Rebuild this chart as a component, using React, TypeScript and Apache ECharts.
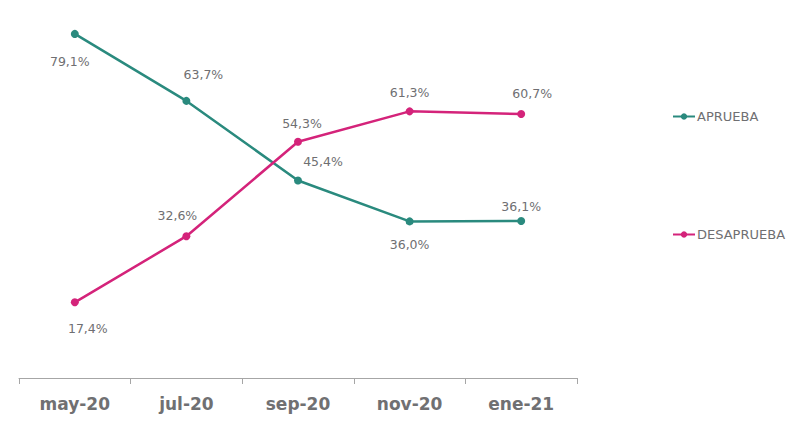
import React, { useEffect, useRef } from "react";
import * as echarts from "echarts";

const categories = ["may-20", "jul-20", "sep-20", "nov-20", "ene-21"];
const aprueba = [79.1, 63.7, 45.4, 36.0, 36.1];
const desaprueba = [17.4, 32.6, 54.3, 61.3, 60.7];

// label placement per point (styling only)
const apruebaLabelPos = ["bottom", "top", "top", "bottom", "top"];
const apruebaLabelOff = [[-5, 12], [17, -11], [25, -4], [0, 8], [0, 1]];
const desapruebaLabelPos = ["bottom", "top", "top", "top", "top"];
const desapruebaLabelOff = [[13, 11], [-9, -5], [4, -3], [0, -3], [11, -5]];

const TEAL = "#2a8a7e";
const PINK = "#d4237a";
const GRAY = "#6f6f72";
const FONT = "'DejaVu Sans', 'Open Sans', sans-serif";

const fmt = (v: number) => v.toFixed(1).replace(".", ",") + "%";

function buildData(vals: number[], pos: string[], off: number[][]) {
  return vals.map((v, i) => ({
    value: v,
    label: { position: pos[i], offset: off[i] },
  }));
}

export default function App() {
  const ref = useRef<HTMLDivElement>(null);
  useEffect(() => {
    document.body.style.margin = "0";
    if (!ref.current) return;
    const chart = echarts.init(ref.current, undefined, { renderer: "svg" });
    const labelBase = {
      show: true,
      color: GRAY,
      fontSize: 12.5,
      fontFamily: FONT,
      formatter: (p: any) => fmt(p.value),
    };
    chart.setOption({
      animation: false,
      backgroundColor: "#ffffff",
      grid: { left: 19, right: 225, top: 30, bottom: 58, containLabel: false },
      legend: {
        orient: "vertical",
        left: 667,
        top: 105,
        itemGap: 105,
        itemWidth: 22,
        itemHeight: 8,
        textStyle: { color: GRAY, fontSize: 13, fontFamily: FONT, padding: [0, 0, 0, -3] },
        data: ["APRUEBA", "DESAPRUEBA"],
      },
      xAxis: {
        type: "category",
        data: categories,
        boundaryGap: true,
        offset: 2,
        axisLine: { lineStyle: { color: "#a6a6a6", width: 1 } },
        axisTick: { show: true, length: 6, lineStyle: { color: "#a6a6a6" }, inside: false },
        axisLabel: {
          color: "#707072",
          fontSize: 17,
          fontWeight: "bold",
          fontFamily: FONT,
          margin: 15,
        },
      },
      yAxis: {
        type: "value",
        min: 0,
        max: 80,
        show: false,
        splitLine: { show: false },
      },
      series: [
        {
          name: "APRUEBA",
          type: "line",
          data: buildData(aprueba, apruebaLabelPos, apruebaLabelOff),
          symbol: "circle",
          symbolSize: 8,
          color: TEAL,
          lineStyle: { color: TEAL, width: 2.5 },
          itemStyle: { color: TEAL },
          label: labelBase,
        },
        {
          name: "DESAPRUEBA",
          type: "line",
          data: buildData(desaprueba, desapruebaLabelPos, desapruebaLabelOff),
          symbol: "circle",
          symbolSize: 8,
          color: PINK,
          lineStyle: { color: PINK, width: 2.5 },
          itemStyle: { color: PINK },
          label: labelBase,
        },
      ],
    });
    return () => chart.dispose();
  }, []);
  return <div ref={ref} style={{ width: 802, height: 436 }} />;
}
